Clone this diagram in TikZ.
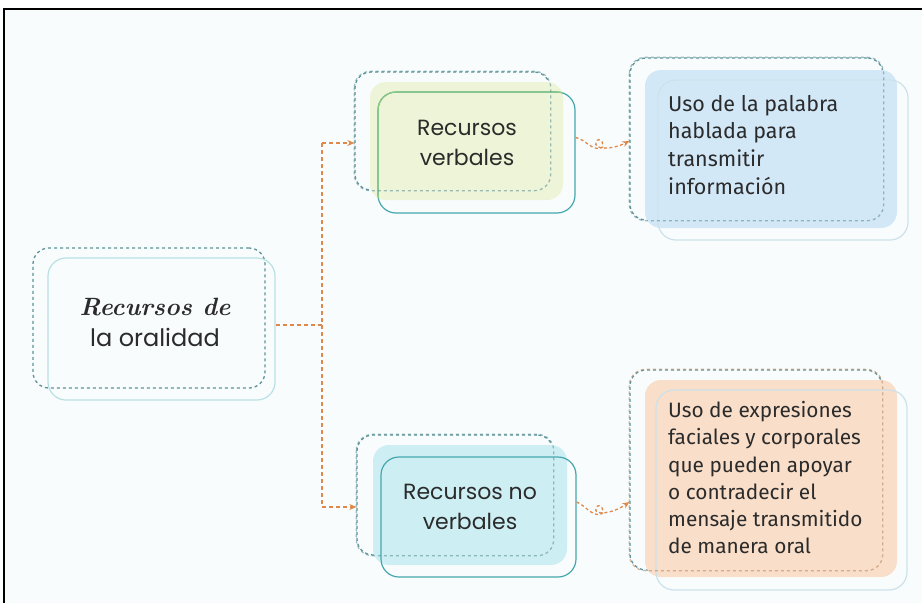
\documentclass[tikz,border=0pt]{standalone}
\usepackage{fontspec}
\setmainfont{Fira Sans}
\newfontfamily\geofont{Poppins}
\newfontfamily\cursfont{Latin Modern Roman}
\usetikzlibrary{arrows.meta}
\definecolor{bgc}{HTML}{F8FCFD}
\definecolor{dashc}{HTML}{5E9499}
\definecolor{orangec}{HTML}{E0884A}
\definecolor{txtc}{HTML}{2B2B2B}
\definecolor{tealc}{HTML}{45A7AE}
\definecolor{greenc}{HTML}{8CC97A}
\definecolor{lteal}{HTML}{B8E1E4}
\definecolor{fillgreen}{HTML}{EEF4D8}
\definecolor{fillcyan}{HTML}{CDEFF4}
\definecolor{fillblue}{HTML}{D3E8F7}
\definecolor{fillpeach}{HTML}{F9DEC9}
\definecolor{lgray}{HTML}{CCE2EA}
\tikzset{
  layer/.style={rectangle, inner sep=0pt, rounded corners=16pt},
  dashbox/.style={layer, draw=dashc, line width=1.3pt, dash pattern=on 3pt off 3pt},
  fillbox/.style={layer, fill=#1, draw=none},
  solidbox/.style={layer, draw=#1, line width=1.2pt, rounded corners=18pt},
  midtext/.style={font=\geofont\fontsize{22}{30}\selectfont, text=txtc, align=center},
  sidetext/.style={text=txtc, align=left, anchor=north west, inner sep=0pt},
  link/.style={draw=orangec, line width=1.3pt, dash pattern=on 4pt off 3pt},
  linkarrow/.style={link, -{Stealth[length=7pt,width=6pt,fill=orangec]}},
}
\begin{document}
\begin{tikzpicture}[x=1pt,y=-1pt]
\useasboundingbox (0,0) rectangle (922,603);
\fill[white] (0,0) rectangle (922,603);
\fill[bgc] (4,9) rectangle (922,603);
\draw[black, line width=2pt] (4,603) -- (4,9) -- (922,9);

% left box
\node[dashbox, minimum width=232pt, minimum height=140pt] (ld) at (149,318) {};
\node[solidbox=lteal, minimum width=227pt, minimum height=142pt] (ls) at (161.5,329) {};
\node[align=center, text=txtc, font=\fontsize{25}{31}\selectfont] (lt) at (155,322) {{\cursfont\bfseries\itshape Recursos de}\\{\geofont\fontsize{24}{31}\selectfont la oralidad}};

% middle top
\node[dashbox, minimum width=195pt, minimum height=118pt] (vd) at (452.5,131) {};
\node[fillbox=fillgreen, minimum width=193pt, minimum height=118pt] (vf) at (466.5,141) {};
\node[solidbox=tealc, minimum width=197pt, minimum height=121pt] (vs) at (476.5,152.5) {};
\begin{scope}
\clip[rounded corners=16pt] (vf.north west) rectangle (vf.south east);
\node[solidbox=greenc, minimum width=197pt, minimum height=121pt] at (476.5,152.5) {};
\end{scope}
\draw[dashc, line width=1.3pt, dash pattern=on 3pt off 3pt, rounded corners=16pt, opacity=0.6] (vd.north west) rectangle (vd.south east);
\node[midtext] (vt) at (467,143) {Recursos\\verbales};

% middle bottom
\node[dashbox, minimum width=196pt, minimum height=120pt] (nd) at (455,495) {};
\node[fillbox=fillcyan, minimum width=194pt, minimum height=120pt] (nf) at (470,505) {};
\node[solidbox=tealc, minimum width=195pt, minimum height=120pt] (ns) at (478.5,517) {};
\draw[dashc, line width=1.3pt, dash pattern=on 3pt off 3pt, rounded corners=16pt, opacity=0.6] (nd.north west) rectangle (nd.south east);
\node[midtext] (nt) at (470,507) {Recursos no\\verbales};

% right top
\node[dashbox, minimum width=253pt, minimum height=162pt] (pd) at (756.5,139) {};
\node[fillbox=fillblue, minimum width=252pt, minimum height=158pt] (pf) at (771,149) {};
\node[solidbox=lgray, minimum width=250pt, minimum height=160pt] (ps) at (783,160) {};
\draw[dashc, line width=1.3pt, dash pattern=on 3pt off 3pt, rounded corners=16pt, opacity=0.6] (pd.north west) rectangle (pd.south east);
\node[sidetext, font=\fontsize{21.5}{27.6}\selectfont] (pt) at (668,95) {Uso de la palabra\\hablada para\\transmitir\\información};

% right bottom
\node[dashbox, minimum width=252pt, minimum height=200pt] (ed) at (756,470) {};
\node[fillbox=fillpeach, minimum width=252pt, minimum height=197pt] (ef) at (771,478.5) {};
\node[solidbox=lgray, minimum width=251pt, minimum height=200pt] (es) at (781.5,490) {};
\draw[orangec!70!dashc, line width=1.3pt, dash pattern=on 3pt off 3pt, rounded corners=16pt, opacity=0.6] (ed.north west) rectangle (ed.south east);
\node[sidetext, font=\fontsize{20.8}{27.3}\selectfont] (et) at (668,401) {Uso de expresiones\\faciales y corporales\\que pueden apoyar\\o contradecir el\\mensaje transmitido\\de manera oral};

% connectors
\coordinate (fork) at (322,325);
\coordinate (forktop) at (322,143);
\coordinate (forkbot) at (322,507);
\draw[link] (ls.east |- fork) -- (fork);
\draw[link] (forktop) -- (forkbot);
\draw[linkarrow] (forktop) -- (vd.west |- forktop);
\draw[linkarrow] (forkbot) -- (nd.west |- forkbot);
\draw[linkarrow, dash pattern=on 3pt off 2.5pt] ([yshift=15pt]vs.east) .. controls (585,139) and (592,151) .. (601,148) .. controls (607,146) and (599,135) .. (596,142) .. controls (593,150) and (612,150) .. ([yshift=-2pt]pd.west);
\draw[linkarrow, dash pattern=on 3pt off 2.5pt] ([yshift=15pt]ns.east) .. controls (585,505) and (592,517) .. (601,514) .. controls (607,512) and (599,501) .. (596,508) .. controls (593,516) and (612,514) .. ([yshift=-32pt]ed.west);
\end{tikzpicture}
\end{document}
